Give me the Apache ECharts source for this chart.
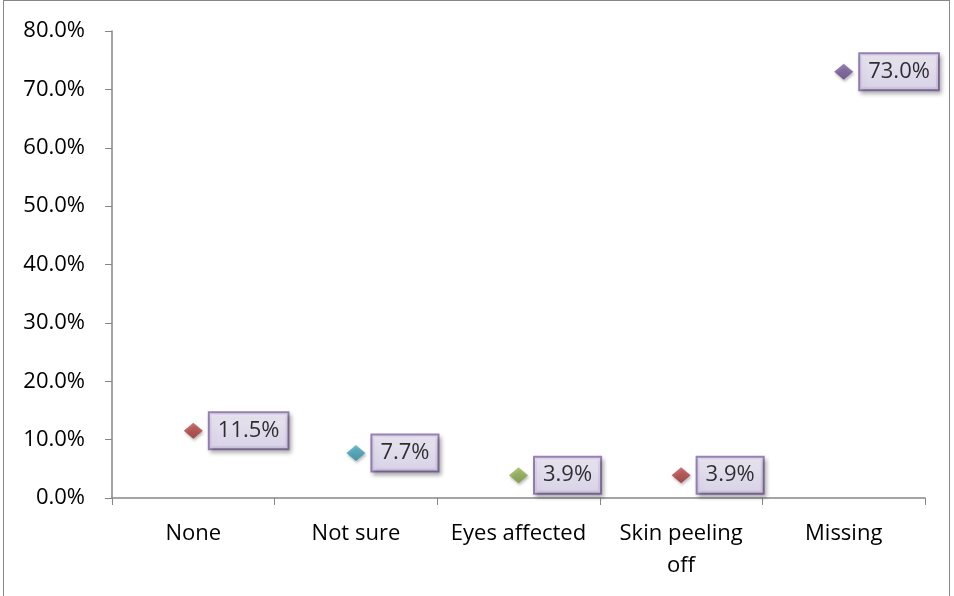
<!DOCTYPE html>
<html><head><meta charset="utf-8">
<script src="https://cdn.jsdelivr.net/npm/echarts@6/dist/echarts.min.js"></script>
<style>html,body{margin:0;padding:0;background:#fff}#c{width:954px;height:596px}
#frame{position:absolute;left:3px;top:0;width:947px;height:600px;border:1px solid #878787;box-sizing:border-box;pointer-events:none}</style>
</head><body><div id="c"></div><div id="frame"></div>
<script>
const categories = ['None', 'Not sure', 'Eyes affected', 'Skin peeling\noff', 'Missing'];
const values = [11.5, 7.7, 3.9, 3.9, 73.0];
const markerColors = ['#c0504d', '#4bacc6', '#9bbb59', '#c0504d', '#8064a2'];
const markerDark = ['#9b2d2a', '#2d8aa3', '#76953a', '#9b2d2a', '#5f4583'];
const yTicks = [0, 10, 20, 30, 40, 50, 60, 70, 80];

const chart = echarts.init(document.getElementById('c'), null, {renderer: 'canvas'});
const font = '"Open Sans", Lato, sans-serif';
chart.setOption({
  animation: false,
  grid: {left: 112, right: 29, top: 31, bottom: 98},
  xAxis: {
    type: 'category', data: categories, boundaryGap: true,
    axisLine: {lineStyle: {color: '#868686', width: 1.5}},
    axisTick: {show: true, length: 7, lineStyle: {color: '#868686'}},
    axisLabel: {color: '#000', fontSize: 22, fontFamily: font, margin: 20, lineHeight: 32, interval: 0}
  },
  yAxis: {
    type: 'value', min: yTicks[0], max: yTicks[yTicks.length - 1], interval: 10,
    splitLine: {show: false},
    axisLine: {show: true, lineStyle: {color: '#868686', width: 1.5}},
    axisTick: {show: true, length: 7, lineStyle: {color: '#868686'}},
    axisLabel: {color: '#000', fontSize: 22, fontFamily: font, margin: 27, formatter: v => v.toFixed(1) + '%'}
  },
  series: [{
    type: 'scatter', symbol: 'diamond', symbolSize: [19, 16],
    data: values.map((v, i) => ({value: v, itemStyle: {
      color: {type: 'linear', x: 0, y: 0, x2: 0, y2: 1, colorStops: [{offset: 0, color: markerColors[i]}, {offset: 1, color: markerDark[i]}]},
      shadowColor: 'rgba(0,0,0,0.35)', shadowBlur: 3, shadowOffsetX: 1, shadowOffsetY: 2}})),
    label: {
      show: true, position: 'right', distance: 7,
      formatter: p => p.value.toFixed(1) + '%',
      color: '#000', fontSize: 22, fontFamily: font,
      backgroundColor: {type: 'linear', x: 0, y: 0, x2: 0, y2: 1, colorStops: [{offset: 0, color: '#f1eefa'}, {offset: 1, color: '#ddd5f0'}]},
      borderColor: '#7f63a1', borderWidth: 2,
      padding: [7, 8, 6, 8],
      shadowColor: 'rgba(0,0,0,0.3)', shadowBlur: 4, shadowOffsetX: 2, shadowOffsetY: 3
    }
  }]
});
</script></body></html>
